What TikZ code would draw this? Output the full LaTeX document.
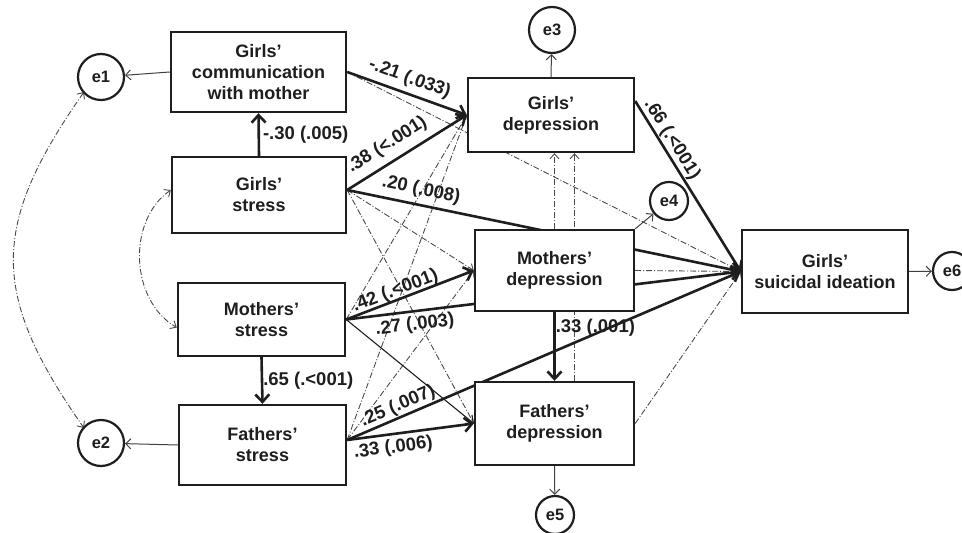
\documentclass[tikz,border=0pt]{standalone}
\usepackage{fontspec}
\setmainfont{Liberation Sans}
\usetikzlibrary{arrows.meta,backgrounds,calc}
\definecolor{ink}{HTML}{1E1E1E}
\definecolor{nsgray}{HTML}{4A4A4A}
\begin{document}
\begin{tikzpicture}[x=1pt,y=1pt,
  box/.style={draw=ink, line width=2.4pt, fill=white, align=center, text=ink,
    font=\fontsize{18}{21}\selectfont\bfseries, inner sep=0pt},
  err/.style={circle, draw=ink, line width=2.2pt, fill=white, text=ink,
    font=\fontsize{16.5}{18}\selectfont\bfseries, inner sep=0pt},
  sig/.style={draw=ink, line width=2.6pt, -{Straight Barb[length=7.5pt,width=14pt]}},
  plain/.style={draw=ink, line width=1.1pt, -{Straight Barb[length=6pt,width=11pt]}},
  thin/.style={draw=ink!85, line width=1pt, -{Straight Barb[length=5pt,width=10pt]}},
  ns/.style={draw=nsgray, line width=0.9pt, dash pattern=on 6pt off 2pt on 1pt off 2pt,
    -{Straight Barb[length=5pt,width=9pt]}},
  cov/.style={draw=nsgray, line width=0.9pt, dash pattern=on 6pt off 2pt on 1pt off 2pt,
    {Straight Barb[length=5pt,width=9pt]}-{Straight Barb[length=5pt,width=9pt]}},
  lab/.style={font=\fontsize{18.5}{20}\selectfont\bfseries, text=ink, inner sep=0pt}]
\useasboundingbox (0,0) rectangle (962,-533);

% boxes
\node[box, minimum width=175pt, minimum height=80pt] (gc) at (258.5,-72) {Girls’\\communication\\with mother};
\node[box, minimum width=174pt, minimum height=76pt] (gs) at (259,-195) {Girls’\\stress};
\node[box, minimum width=167pt, minimum height=73pt] (ms) at (261.5,-319.5) {Mothers’\\stress};
\node[box, minimum width=167pt, minimum height=80pt] (fs) at (262.5,-445) {Fathers’\\stress};
\node[box, minimum width=166pt, minimum height=74pt] (gd) at (551,-115) {Girls’\\depression};
\node[box, minimum width=159pt, minimum height=81pt] (md) at (554.5,-270.5) {Mothers’\\depression};
\node[box, minimum width=159pt, minimum height=83pt] (fd) at (554.5,-423.5) {Fathers’\\depression};
\node[box, minimum width=166pt, minimum height=83pt] (gsi) at (825,-271.5) {Girls’\\suicidal ideation};

% error terms
\node[err, minimum size=46pt] (e1) at (101,-77) {e1};
\node[err, minimum size=46pt] (e2) at (101,-443) {e2};
\node[err, minimum size=46pt] (e3) at (552,-30) {e3};
\node[err, minimum size=38pt] (e4) at (669,-201) {e4};
\node[err, minimum size=38pt] (e5) at (555,-515) {e5};
\node[err, minimum size=38pt] (e6) at (952,-271) {e6};

\coordinate (gsE) at ([yshift=5pt]gs.east);
\coordinate (fsE) at ([yshift=5pt]fs.east);
\coordinate (gdE) at ([yshift=14pt]gd.east);

\begin{pgfonlayer}{background}
% non-significant paths
\draw[ns] (gc.east) -- (gsi.west);
\draw[ns] (gsE) -- (md.west);
\draw[ns] (gsE) -- (fd.west);
\draw[ns] (ms.east) -- (gd.west);
\draw[ns] (fsE) -- (gd.west);
\draw[ns] (fsE) -- (md.west);
\draw[ns] (md.north) -- (md.north |- gd.south);
\draw[ns] ([xshift=20pt]fd.north) -- ([xshift=20pt]fd.north |- gd.south);
\draw[ns] (md.east) -- (gsi.west);
\draw[ns] (fd.east) -- (gsi.west);
% covariances
\draw[cov] ([yshift=2pt]e1.225) to[out=235,in=125,looseness=1.25] ([yshift=-2pt]e2.135);
\draw[cov] ([yshift=5pt]gs.west) to[out=215,in=150] ([yshift=-8pt]ms.west);

% significant paths
\draw[sig] (gs.north) -- node[lab, midway, right=3pt] {-.30 (.005)} (gc.south);
\draw[sig] (gc.east) -- node[lab, pos=0.48, sloped, above=5pt] {-.21 (.033)} (gd.west);
\draw[sig] (gsE) -- node[lab, pos=0.41, sloped, above=7pt] {.38 (<.001)} (gd.west);
\draw[sig] (gsE) -- node[lab, pos=0.18, sloped, above=5pt] {.20 (.008)} (gsi.west);
\draw[sig] (ms.east) -- node[lab, pos=0.41, sloped, above=-1pt] {.42 (.<001)} (md.west);
\draw[sig] (ms.east) -- node[lab, pos=0.17, sloped, below=4pt] {.27 (.003)} (gsi.west);
\draw[sig] (ms.south) -- node[lab, midway, right=0pt] {.65 (.<001)} (fs.north);
\draw[sig] (fsE) -- node[lab, pos=0.35, sloped, below=4pt] {.33 (.006)} (fd.west);
\draw[sig] (fsE) -- node[lab, pos=0.14, sloped, above=1pt] {.25 (.007)} (gsi.west);
\draw[sig] (md.south) -- node[lab, pos=0.23, right=0pt] {.33 (.001)} (fd.north);
\draw[sig] (gdE) -- node[lab, pos=0.26, sloped, above=1pt] {.66 (.<001)} (gsi.west);
\draw[plain] (ms.east) -- (fd.west);

% residual arrows
\draw[thin] (gc.west) -- (e1);
\draw[thin] (fs.west) -- (e2);
\draw[thin] (gd.north) -- (e3);
\draw[thin] (md.north east) -- (e4);
\draw[thin] (fd.south) -- (e5);
\draw[thin] (gsi.east) -- (e6);
\end{pgfonlayer}
\end{tikzpicture}
\end{document}
